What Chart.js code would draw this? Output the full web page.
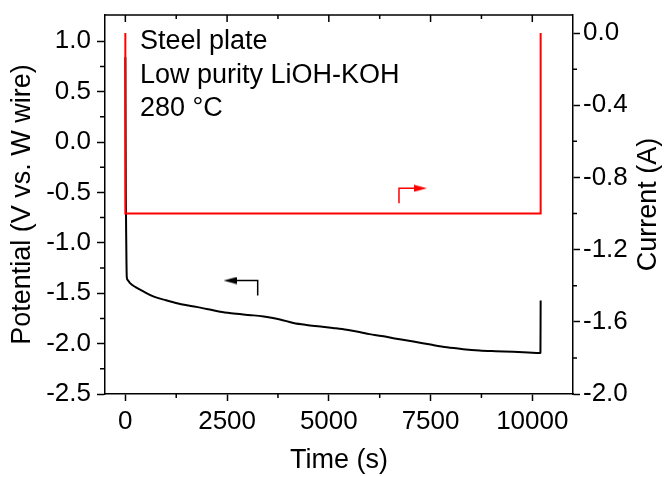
<!DOCTYPE html>
<html><head><meta charset="utf-8">
<script src="https://cdn.jsdelivr.net/npm/chart.js@4/dist/chart.umd.min.js"></script>
<style>html,body{margin:0;padding:0;background:#fff}</style>
</head><body>
<canvas id="c" width="665" height="477"></canvas>
<script>
// ---- data ----
const timePotential = [0, 5, 12, 20, 28, 35, 60, 115, 250, 450, 700, 1000, 1270, 1550, 1840, 2100, 2330, 2600, 2900, 3150, 3400, 3800, 4130, 4450, 4790, 5100, 5440, 5750, 6000, 6300, 6700, 7080, 7500, 7900, 8300, 8700, 9100, 9530, 9900, 10180, 10200, 10205];
const potential = [0.84, 0.2, -0.5, -0.9, -1.2, -1.34, -1.37, -1.40, -1.44, -1.484, -1.534, -1.57, -1.599, -1.622, -1.643, -1.665, -1.685, -1.70, -1.712, -1.72, -1.732, -1.76, -1.795, -1.815, -1.83, -1.845, -1.863, -1.885, -1.906, -1.925, -1.955, -1.979, -2.01, -2.037, -2.055, -2.068, -2.075, -2.081, -2.088, -2.094, -2.09, -1.573];
const timeCurrent = [0, 0, 10205, 10205];
const current = [0.0, -1.0, -1.0, 0.0];

// arrows (data coordinates)
const redArrowT = [6724, 6724, 7253];
const redArrowI = [-0.943, -0.860, -0.860];
const blackArrowT = [3252, 3252, 2572];
const blackArrowV = [-1.524, -1.375, -1.375];

// ticks
const xMajor = [0, 2500, 5000, 7500, 10000];
const xMinor = [1250, 3750, 6250, 8750];
const leftMajor = [-2.5, -2.0, -1.5, -1.0, -0.5, 0.0, 0.5, 1.0];
const leftMinor = [-2.25, -1.75, -1.25, -0.75, -0.25, 0.25, 0.75];
const rightMajor = [-2.0, -1.6, -1.2, -0.8, -0.4, 0.0];
const rightMinor = [-1.8, -1.4, -1.0, -0.6, -0.2];

const annotationLines = ['Steel plate', 'Low purity LiOH-KOH', '280 \u00B0C'];
const xTitle = 'Time (s)';
const leftTitle = 'Potential (V vs. W wire)';
const rightTitle = 'Current (A)';

// ---- helpers ----
const FONT = "'Liberation Sans', Arial, sans-serif";
function zip(a, b) { return a.map((v, i) => ({x: v, y: b[i]})); }
function fmt1(v) { return Math.abs(v) < 1e-9 ? '0.0' : v.toFixed(1); }
function arrowHead(color) {
  const c = document.createElement('canvas');
  c.width = 13; c.height = 8;
  const g = c.getContext('2d');
  g.fillStyle = color;
  g.beginPath(); g.moveTo(0, 0.5); g.lineTo(13, 4); g.lineTo(0, 7.5); g.closePath(); g.fill();
  return c;
}
const redHead = arrowHead('#ff0000');
const blackHead = arrowHead('#000000');

const framePlugin = {
  id: 'frame',
  afterDraw(chart) {
    const ctx = chart.ctx, a = chart.chartArea;
    const sx = chart.scales.x, sy = chart.scales.y, sy2 = chart.scales.y2;
    ctx.save();
    ctx.strokeStyle = '#000'; ctx.lineWidth = 1.5;
    ctx.beginPath();
    ctx.moveTo(a.left, a.top); ctx.lineTo(a.right, a.top);
    xMajor.forEach(v => { const p = sx.getPixelForValue(v); ctx.moveTo(p, a.top); ctx.lineTo(p, a.top + 7); });
    xMinor.forEach(v => { const p = sx.getPixelForValue(v); ctx.moveTo(p, a.top); ctx.lineTo(p, a.top + 4); });
    xMinor.forEach(v => { const p = sx.getPixelForValue(v); ctx.moveTo(p, a.bottom); ctx.lineTo(p, a.bottom + 4); });
    leftMinor.forEach(v => { const p = sy.getPixelForValue(v); ctx.moveTo(a.left, p); ctx.lineTo(a.left - 5, p); });
    rightMinor.forEach(v => { const p = sy2.getPixelForValue(v); ctx.moveTo(a.right, p); ctx.lineTo(a.right + 4, p); });
    ctx.stroke();

    ctx.fillStyle = '#000';
    ctx.font = '27px ' + FONT;
    ctx.textAlign = 'center'; ctx.textBaseline = 'middle';
    ctx.translate(649, (a.top + a.bottom) / 2);
    ctx.rotate(-Math.PI / 2);
    ctx.fillText(rightTitle, 0, 0);
    ctx.restore();

    ctx.save();
    ctx.fillStyle = '#000';
    ctx.font = '27px ' + FONT;
    ctx.textAlign = 'left'; ctx.textBaseline = 'alphabetic';
    annotationLines.forEach((t, i) => ctx.fillText(t, 140, 49 + i * 33.5));
    ctx.restore();
  }
};

Chart.defaults.color = '#000';
Chart.defaults.font.family = FONT;

new Chart(document.getElementById('c'), {
  type: 'line',
  data: {
    datasets: [
      { data: zip(timeCurrent, current), yAxisID: 'y2', borderColor: '#ff0000', borderWidth: 2, pointRadius: 0, tension: 0, fill: false },
      { data: zip(timePotential, potential), yAxisID: 'y', borderColor: '#000', borderWidth: 2, pointRadius: 0, cubicInterpolationMode: 'monotone', fill: false },
      { data: zip(redArrowT, redArrowI), yAxisID: 'y2', borderColor: '#ff0000', borderWidth: 1.5, tension: 0, fill: false,
        pointRadius: [0, 0, 6], pointStyle: ['circle', 'circle', redHead], pointRotation: 0, borderJoinStyle: 'miter' },
      { data: zip(blackArrowT, blackArrowV), yAxisID: 'y', borderColor: '#000', borderWidth: 1.5, tension: 0, fill: false,
        pointRadius: [0, 0, 6], pointStyle: ['circle', 'circle', blackHead], pointRotation: 180, borderJoinStyle: 'miter' }
    ]
  },
  options: {
    responsive: false,
    animation: false,
    events: [],
    layout: { padding: { top: 15, left: 0, right: 0, bottom: 0 } },
    plugins: { legend: { display: false }, tooltip: { enabled: false } },
    scales: {
      x: {
        type: 'linear', position: 'bottom', min: -500, max: 11000,
        afterBuildTicks: s => { s.ticks = xMajor.map(v => ({value: v})); },
        afterFit: s => { s.height = 83; s.paddingLeft = 0; s.paddingRight = 0; },
        ticks: { font: { size: 26 }, padding: 5, maxRotation: 0, autoSkip: false, callback: v => String(v) },
        grid: { drawOnChartArea: false, drawTicks: true, tickLength: 7, tickColor: '#000', tickWidth: 1.5 },
        border: { display: true, color: '#000', width: 1.5 },
        title: { display: true, text: xTitle, font: { size: 27 }, padding: { top: 0, bottom: 0 } }
      },
      y: {
        type: 'linear', position: 'left', min: -2.5, max: 1.26,
        afterBuildTicks: s => { s.ticks = leftMajor.map(v => ({value: v})); },
        afterFit: s => { s.width = 105; s.paddingTop = 0; s.paddingBottom = 0; },
        ticks: { font: { size: 26 }, padding: 6, callback: v => fmt1(v) },
        grid: { drawOnChartArea: false, drawTicks: true, tickLength: 8, tickColor: '#000', tickWidth: 1.5 },
        border: { display: true, color: '#000', width: 1.5 },
        title: { display: true, text: leftTitle, font: { size: 27 }, padding: { top: 6, bottom: 0 } }
      },
      y2: {
        type: 'linear', position: 'right', min: -2.0, max: 0.1,
        afterBuildTicks: s => { s.ticks = rightMajor.map(v => ({value: v})); },
        afterFit: s => { s.width = 92; s.paddingTop = 0; s.paddingBottom = 0; },
        ticks: { font: { size: 26 }, padding: 3, callback: v => fmt1(v) },
        grid: { drawOnChartArea: false, drawTicks: true, tickLength: 7, tickColor: '#000', tickWidth: 1.5 },
        border: { display: true, color: '#000', width: 1.5 },
        title: { display: false }
      }
    }
  },
  plugins: [framePlugin]
});
</script>
</body></html>
